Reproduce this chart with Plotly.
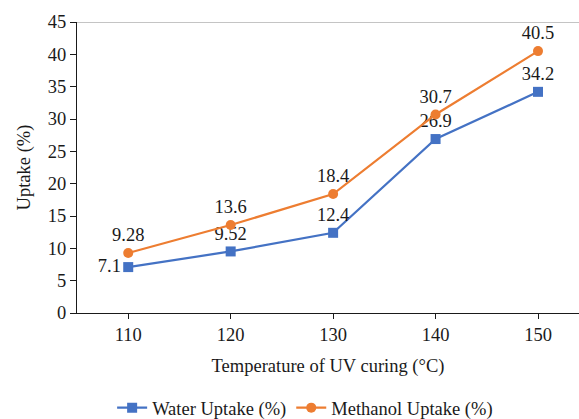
import plotly.graph_objects as go

temperatures = ["110", "120", "130", "140", "150"]
water_uptake = [7.1, 9.52, 12.4, 26.9, 34.2]
methanol_uptake = [9.28, 13.6, 18.4, 30.7, 40.5]
water_labels = ["7.1", "9.52", "12.4", "26.9", "34.2"]
methanol_labels = ["9.28", "13.6", "18.4", "30.7", "40.5"]
y_ticks = [0, 5, 10, 15, 20, 25, 30, 35, 40, 45]

FONT = "Times New Roman, Liberation Serif, serif"
SIZE = 18.5
BLUE = "#4472C4"
ORANGE = "#ED7D31"
TEXT = "#1a1a1a"

fig = go.Figure()
fig.add_trace(go.Scatter(
    x=temperatures, y=water_uptake, name="Water Uptake (%)",
    mode="lines+markers+text",
    line=dict(color=BLUE, width=2.2),
    marker=dict(symbol="square", size=10, color=BLUE),
    text=water_labels,
    textposition=["middle left", "top center", "top center", "top center", "top center"],
    textfont=dict(family=FONT, size=SIZE, color=TEXT),
))
fig.add_trace(go.Scatter(
    x=temperatures, y=methanol_uptake, name="Methanol Uptake (%)",
    mode="lines+markers+text",
    line=dict(color=ORANGE, width=2.2),
    marker=dict(symbol="circle", size=10, color=ORANGE),
    text=methanol_labels, textposition="top center",
    textfont=dict(family=FONT, size=SIZE, color=TEXT),
))

# thin gray line along the top of the value range
fig.add_shape(type="line", xref="paper", yref="y", x0=0, x1=1, y0=45, y1=45,
              line=dict(color="#8a8a8a", width=1.2))

fig.update_layout(
    width=579, height=419,
    margin=dict(l=77, r=0, t=22, b=106, autoexpand=False),
    paper_bgcolor="white", plot_bgcolor="white",
    font=dict(family=FONT, size=SIZE, color=TEXT),
    showlegend=True,
    legend=dict(orientation="h", x=0.527, xanchor="center", xref="container",
                y=0.026, yanchor="middle", yref="container",
                font=dict(family=FONT, size=SIZE, color=TEXT), tracegroupgap=0),
    xaxis=dict(
        type="category", range=[-0.5, 4.4],
        showline=True, linecolor=TEXT, linewidth=1.2,
        ticks="outside", ticklen=5, tickcolor=TEXT,
        tickfont=dict(family=FONT, size=SIZE, color=TEXT),
        showgrid=False, zeroline=False,
        title=dict(text="Temperature of UV curing (°C)",
                   font=dict(family=FONT, size=SIZE, color=TEXT), standoff=14),
    ),
    yaxis=dict(
        range=[0, 45], tickvals=y_ticks,
        showline=True, linecolor=TEXT, linewidth=1.2,
        ticks="outside", ticklen=6, tickcolor=TEXT,
        tickfont=dict(family=FONT, size=SIZE, color=TEXT),
        showgrid=False, zeroline=False,
        title=dict(text="Uptake (%)", font=dict(family=FONT, size=SIZE, color=TEXT), standoff=12),
    ),
)

fig.write_html("out.html")
